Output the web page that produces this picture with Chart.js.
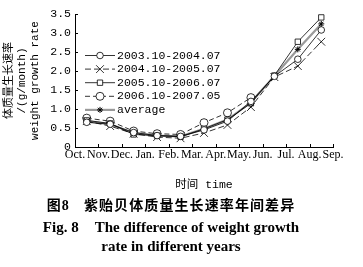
<!DOCTYPE html>
<html><head><meta charset="utf-8">
<script src="https://cdn.jsdelivr.net/npm/chart.js@4/dist/chart.umd.min.js"></script>
<style>
html,body{margin:0;padding:0;background:#fff;}
#wrap{position:relative;width:363px;height:267px;overflow:hidden;background:#fff;}
#c{position:absolute;left:0;top:0;}
.cap{position:absolute;left:0;width:342px;text-align:center;color:#000;white-space:nowrap;line-height:1;}
#cap1{top:194px;font:700 14px "Noto Sans CJK SC";letter-spacing:1.1px;}
#cap1 .n{font-family:"Liberation Serif";}
#cap2{top:219px;font:700 15px "Liberation Serif";}
#cap3{top:238px;font:700 15px "Liberation Serif";}
.gap{display:inline-block;}
</style></head>
<body>
<div id="wrap">
<canvas id="c" width="363" height="195"></canvas>
<div class="cap" id="cap1">图<span class="n">8</span><span class="gap" style="width:14px"></span>紫贻贝体质量生长速率年间差异</div>
<div class="cap" id="cap2">Fig. 8<span class="gap" style="width:16px"></span>The difference of weight growth</div>
<div class="cap" id="cap3">rate in different years</div>
</div>
<script>
const MONTHS = ['Oct.','Nov.','Dec.','Jan.','Feb.','Mar.','Apr.','May.','Jun.','Jul.','Aug.','Sep.'];
const Y_TICKS = [0,0.5,1,1.5,2,2.5,3,3.5];
const SERIES_NAMES = ['2003.10-2004.07','2004.10-2005.07','2005.10-2006.07','2006.10-2007.05','average'];
// growth rate for each interval between consecutive months (Oct-Nov ... Aug-Sep)
const S2003 = [0.65,0.60,0.38,0.30,0.28,0.45,0.68,1.20,1.86,2.31,3.08];
const S2004 = [0.68,0.55,0.35,0.26,0.23,0.37,0.58,1.05,1.84,2.13,2.77];
const S2005 = [0.70,0.62,0.33,0.30,0.27,0.48,0.72,1.15,1.88,2.77,3.41];
const S2006 = [0.76,0.68,0.42,0.35,0.33,0.64,0.90,1.30];
const SAVG  = [0.68,0.60,0.37,0.30,0.28,0.48,0.72,1.17,1.87,2.57,3.24];

const toPts = arr => arr.map((v,i)=>({x:i+0.5, y:v}));
const MONO = "'Liberation Mono','Noto Sans CJK SC'";

const datasets = [
  {label:SERIES_NAMES[0], data:toPts(S2003), borderColor:'#000', borderWidth:0.8, pointStyle:'circle', pointRadius:3.3, pointBackgroundColor:'#fff', pointBorderColor:'#000', pointBorderWidth:0.8, order:1},
  {label:SERIES_NAMES[1], data:toPts(S2004), borderColor:'#000', borderWidth:0.8, borderDash:[6,3], pointStyle:'crossRot', pointRadius:5.5, pointBorderColor:'#000', pointBorderWidth:0.8, order:2},
  {label:SERIES_NAMES[2], data:toPts(S2005), borderColor:'#000', borderWidth:0.8, pointStyle:'rect', pointRadius:3.8, pointBackgroundColor:'#fff', pointBorderColor:'#000', pointBorderWidth:0.8, order:3},
  {label:SERIES_NAMES[3], data:toPts(S2006), borderColor:'#000', borderWidth:0.8, borderDash:[5,3], pointStyle:'circle', pointRadius:4, pointBackgroundColor:'#fff', pointBorderColor:'#000', pointBorderWidth:0.8, order:4},
  {label:SERIES_NAMES[4], data:toPts(SAVG), borderColor:'#9a9a9a', borderWidth:2.2, pointStyle:'star', pointRadius:3, pointBorderColor:'#000', pointBorderWidth:1, order:10}
];
datasets.forEach(d=>{d.fill=false; d.tension=0; d.pointHoverRadius=d.pointRadius;});

const inTicks = {
  id:'inTicks',
  afterDraw(chart){
    const {ctx, scales:{x,y}, chartArea:a} = chart;
    ctx.save(); ctx.strokeStyle='#000'; ctx.lineWidth=1; ctx.beginPath();
    x.ticks.forEach(t=>{ if(t.value===x.min) return; const px=Math.round(x.getPixelForValue(t.value))+0.5; ctx.moveTo(px,a.bottom); ctx.lineTo(px,a.bottom-3); });
    y.ticks.forEach(t=>{ if(t.value===y.min) return; const py=Math.round(y.getPixelForValue(t.value))+0.5; ctx.moveTo(a.left,py); ctx.lineTo(a.left+3,py); });
    ctx.stroke(); ctx.restore();
  }
};

const legendIn = {
  id:'legendIn',
  afterDraw(chart){
    const {ctx, chartArea:a} = chart;
    ctx.save();
    chart.data.datasets.forEach((d,i)=>{
      const cy = a.top + 41 + i*13.6;
      const x0 = a.left + 10, x1 = a.left + 40, xm = a.left + 25;
      ctx.save();
      ctx.strokeStyle = d.borderColor; ctx.lineWidth = d.borderWidth;
      ctx.setLineDash(d.borderDash || []);
      ctx.beginPath(); ctx.moveTo(x0, cy+0.5); ctx.lineTo(x1, cy+0.5); ctx.stroke();
      ctx.restore();
      ctx.save();
      ctx.strokeStyle = d.pointBorderColor; ctx.fillStyle = d.pointBackgroundColor || '#fff';
      ctx.lineWidth = d.pointBorderWidth;
      Chart.helpers.drawPoint(ctx, {pointStyle:d.pointStyle, radius:d.pointRadius, rotation:0, borderWidth:d.pointBorderWidth}, xm, cy+0.5);
      ctx.restore();
      ctx.fillStyle='#000'; ctx.font = "11.5px " + MONO; ctx.textBaseline='middle'; ctx.textAlign='left';
      ctx.fillText(d.label, a.left + 42, cy+0.5);
    });
    ctx.restore();
  }
};

new Chart(document.getElementById('c'), {
  type:'line',
  data:{datasets},
  plugins:[inTicks, legendIn],
  options:{
    responsive:false, animation:false, devicePixelRatio:1,
    layout:{padding:{left:3,right:30,top:14,bottom:0}},
    plugins:{legend:{display:false}, tooltip:{enabled:false}},
    scales:{
      x:{type:'linear', min:0, max:MONTHS.length-1,
        afterBuildTicks: s => { s.ticks = MONTHS.map((m,i)=>({value:i})); },
        ticks:{autoSkip:false, maxRotation:0, padding:1, color:'#000', font:{family:'Liberation Serif', size:12}, callback:(v)=>MONTHS[v]},
        grid:{drawOnChartArea:false, drawTicks:false}, border:{color:'#000', width:1},
        title:{display:true, text:'时间 time', color:'#000', font:{family:MONO, size:11.5}, padding:{top:0,bottom:3}},
        afterFit: s => { s.height = 48; }
      },
      y:{min:0, max:3.5,
        afterBuildTicks: s => { s.ticks = Y_TICKS.map(v=>({value:v})); },
        ticks:{padding:4, color:'#000', font:{family:MONO, size:11.5}, callback:(v)=> v===0 ? '0' : v.toFixed(1)},
        grid:{drawOnChartArea:false, drawTicks:false}, border:{color:'#000', width:1},
        title:{display:true, text:['体质量生长速率','/(g/month)','weight growth rate'], color:'#000', font:{family:MONO, size:11, lineHeight:1.15}, padding:0},
        afterFit: s => { s.width = 72; }
      }
    }
  }
});
</script>
</body></html>
